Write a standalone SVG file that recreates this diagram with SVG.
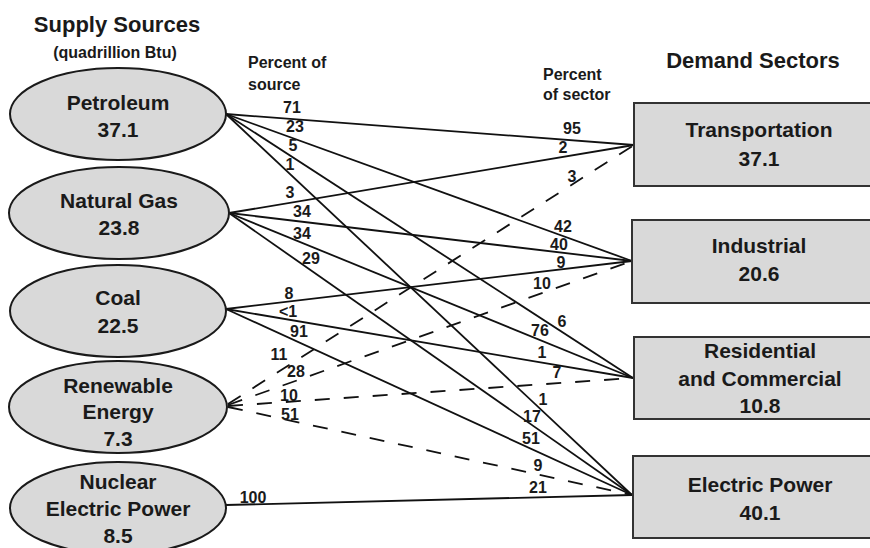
<svg xmlns="http://www.w3.org/2000/svg" width="870" height="548" viewBox="0 0 870 548">
<style>
text{font-family:"Liberation Sans",Arial,sans-serif;font-weight:bold;fill:#1a1a1a;text-anchor:middle}
.title{font-size:22px}
.sub{font-size:16px}
.hdr{font-size:16px;text-anchor:start}
.node{font-size:21px}
.lbl{font-size:16px}
.src{fill:#d9d9d9;stroke:#1a1a1a;stroke-width:2}
.sec{fill:#d9d9d9;stroke:#333;stroke-width:2}
.c{stroke:#111;stroke-width:1.8;fill:none}
.d{stroke:#111;stroke-width:1.8;fill:none;stroke-dasharray:15 14}
</style>
<rect width="870" height="548" fill="#fff"/>
<text class="title" x="117" y="32">Supply Sources</text>
<text class="sub" x="115" y="58">(quadrillion Btu)</text>
<text class="title" x="753" y="68">Demand Sectors</text>
<text class="hdr" x="248" y="68">Percent of</text>
<text class="hdr" x="248" y="90">source</text>
<text class="hdr" x="543" y="80">Percent</text>
<text class="hdr" x="543" y="100">of sector</text>

<g id="connectors">
<line class="c" x1="226" y1="114" x2="634" y2="145"/>
<line class="c" x1="226" y1="114" x2="632" y2="261"/>
<line class="c" x1="226" y1="114" x2="633" y2="378"/>
<line class="c" x1="226" y1="114" x2="632" y2="495"/>
<line class="c" x1="229" y1="213" x2="634" y2="145"/>
<line class="c" x1="229" y1="213" x2="632" y2="261"/>
<line class="c" x1="229" y1="213" x2="633" y2="378"/>
<line class="c" x1="229" y1="213" x2="632" y2="495"/>
<line class="c" x1="226" y1="309" x2="632" y2="261"/>
<line class="c" x1="226" y1="309" x2="633" y2="378"/>
<line class="c" x1="226" y1="309" x2="632" y2="495"/>
<line class="d" x1="228" y1="404" x2="634" y2="145"/>
<line class="d" x1="228" y1="405" x2="632" y2="261"/>
<line class="d" x1="228" y1="406" x2="633" y2="378"/>
<line class="d" x1="228" y1="407" x2="632" y2="495"/>
<line class="c" x1="226" y1="505" x2="632" y2="495"/>
<g class="labels">
<text class="lbl" x="292" y="113">71</text>
<text class="lbl" x="295" y="132">23</text>
<text class="lbl" x="293" y="151">5</text>
<text class="lbl" x="290" y="170">1</text>
<text class="lbl" x="290" y="198">3</text>
<text class="lbl" x="302" y="217">34</text>
<text class="lbl" x="302" y="239">34</text>
<text class="lbl" x="311" y="264">29</text>
<text class="lbl" x="289" y="299">8</text>
<text class="lbl" x="288" y="317">&lt;1</text>
<text class="lbl" x="299" y="337">91</text>
<text class="lbl" x="279" y="360">11</text>
<text class="lbl" x="296" y="377">28</text>
<text class="lbl" x="289" y="401">10</text>
<text class="lbl" x="290" y="420">51</text>
<text class="lbl" x="253" y="503">100</text>
<text class="lbl" x="572" y="134">95</text>
<text class="lbl" x="563" y="153">2</text>
<text class="lbl" x="572" y="182">3</text>
<text class="lbl" x="563" y="232">42</text>
<text class="lbl" x="559" y="250">40</text>
<text class="lbl" x="561" y="268">9</text>
<text class="lbl" x="542" y="289">10</text>
<text class="lbl" x="562" y="327">6</text>
<text class="lbl" x="540" y="336">76</text>
<text class="lbl" x="542" y="358">1</text>
<text class="lbl" x="557" y="378">7</text>
<text class="lbl" x="543" y="405">1</text>
<text class="lbl" x="532" y="422">17</text>
<text class="lbl" x="531" y="444">51</text>
<text class="lbl" x="538" y="471">9</text>
<text class="lbl" x="538" y="493">21</text>
</g>
</g>

<g id="petroleum"><ellipse class="src" cx="118" cy="114" rx="108" ry="46"/><text class="node" x="118" y="110">Petroleum</text><text class="node" x="118" y="137">37.1</text></g>
<g id="natural-gas"><ellipse class="src" cx="119" cy="213" rx="110" ry="46"/><text class="node" x="119" y="208">Natural Gas</text><text class="node" x="119" y="235">23.8</text></g>
<g id="coal"><ellipse class="src" cx="118" cy="311" rx="108" ry="46"/><text class="node" x="118" y="305">Coal</text><text class="node" x="118" y="333">22.5</text></g>
<g id="renewable"><ellipse class="src" cx="118" cy="407" rx="109" ry="46"/><text class="node" x="118" y="393">Renewable</text><text class="node" x="118" y="419">Energy</text><text class="node" x="118" y="446">7.3</text></g>
<g id="nuclear"><ellipse class="src" cx="118" cy="508" rx="108" ry="46"/><text class="node" x="118" y="489">Nuclear</text><text class="node" x="118" y="516">Electric Power</text><text class="node" x="118" y="543">8.5</text></g>

<g id="transportation"><rect class="sec" x="634" y="103" width="260" height="83"/><text class="node" x="759" y="137">Transportation</text><text class="node" x="759" y="166">37.1</text></g>
<g id="industrial"><rect class="sec" x="632" y="220" width="260" height="83"/><text class="node" x="759" y="253">Industrial</text><text class="node" x="759" y="281">20.6</text></g>
<g id="residential"><rect class="sec" x="634" y="337" width="260" height="82"/><text class="node" x="760" y="358">Residential</text><text class="node" x="760" y="386">and Commercial</text><text class="node" x="760" y="413">10.8</text></g>
<g id="electric-power"><rect class="sec" x="633" y="456" width="260" height="82"/><text class="node" x="760" y="492">Electric Power</text><text class="node" x="760" y="520">40.1</text></g>
</svg>
